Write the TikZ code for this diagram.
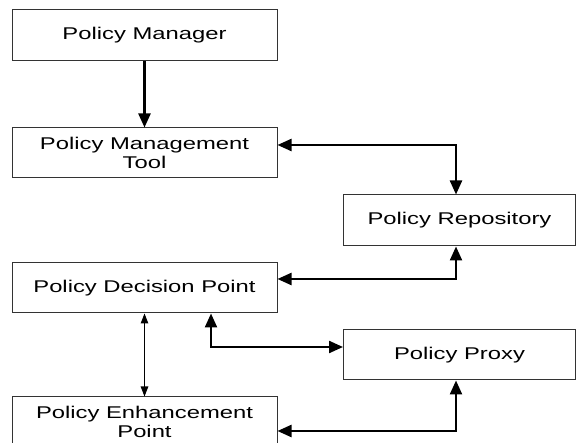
\documentclass[tikz,border=0pt]{standalone}
\usepackage{fontspec}
\setmainfont{Liberation Sans}[FakeStretch=1.4]
\usetikzlibrary{arrows.meta}
\begin{document}
\begin{tikzpicture}[x=1pt,y=-1pt,
  box/.style={draw=black!80,line width=1pt,fill=white,inner sep=0pt,align=center,
    font=\fontsize{17pt}{19pt}\selectfont},
  wide/.style={minimum width=265pt,minimum height=50pt},
  rbox/.style={minimum width=232pt,minimum height=50pt},
  thickarrow/.style={line width=2.3pt,{Triangle[length=14pt,width=12pt]}-{Triangle[length=14pt,width=12pt]}},
  thinarrow/.style={line width=1.2pt,{Triangle[length=10pt,width=7.5pt]}-{Triangle[length=10pt,width=7.5pt]}}
]
\clip (0,0) rectangle (576,443);
\fill[white] (0,0) rectangle (576,443);
\node[box,wide,minimum height=51pt] (PM) at (144.5,35.5) {Policy Manager};
\node[box,wide] (PMT) at (144.5,153) {Policy Management\\Tool};
\node[box,rbox,minimum height=51pt] (Repo) at (459.5,220.5) {Policy Repository};
\node[box,wide] (PDP) at (144.5,288) {Policy Decision Point};
\node[box,rbox] (Proxy) at (459.5,355) {Policy Proxy};
\node[box,wide] (PEP) at (144.5,422) {Policy Enhancement\\Point};
\draw[line width=2.3pt,-{Triangle[length=14pt,width=12pt]}] (PM.south) -- (PMT.north);
\draw[thickarrow] ([yshift=8pt]PMT.east) -| ([xshift=-3.5pt]Repo.north);
\draw[thickarrow] ([yshift=9pt]PDP.east) -| ([xshift=-3.5pt]Repo.south);
\draw[thickarrow] ([yshift=-9pt]PEP.east) -| ([xshift=-3.5pt]Proxy.south);
\draw[thickarrow] ([xshift=66.5pt]PDP.south) |- ([yshift=8pt]Proxy.west);
\draw[thinarrow] (PDP.south) -- (PEP.north);
\end{tikzpicture}
\end{document}
